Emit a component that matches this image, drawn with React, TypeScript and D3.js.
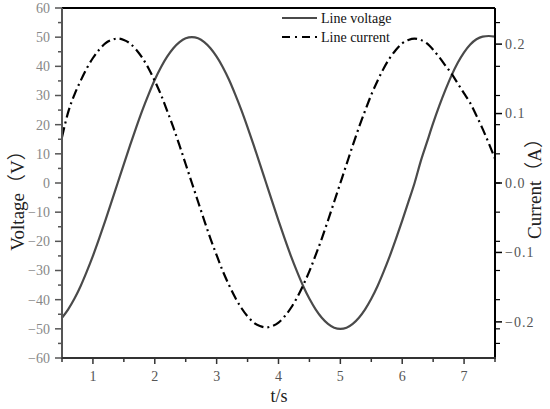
import React from 'react';
import * as d3 from 'd3';

// time grid (s)
const timeS = [
  0.5, 0.6, 0.7, 0.8, 0.9, 1.0, 1.1, 1.2, 1.3, 1.4,
  1.5, 1.6, 1.7, 1.8, 1.9, 2.0, 2.1, 2.2, 2.3, 2.4,
  2.5, 2.6, 2.7, 2.8, 2.9, 3.0, 3.1, 3.2, 3.3, 3.4,
  3.5, 3.6, 3.7, 3.8, 3.9, 4.0, 4.1, 4.2, 4.3, 4.4,
  4.5, 4.6, 4.7, 4.8, 4.9, 5.0, 5.1, 5.2, 5.3, 5.4,
  5.5, 5.6, 5.7, 5.8, 5.9, 6.0, 6.1, 6.2, 6.3, 6.4,
  6.5, 6.6, 6.7, 6.8, 6.9, 7.0, 7.1, 7.2, 7.3, 7.4, 7.5,
];

// Line voltage (V)
const voltage = [
  -46.2, -43.3, -39.7, -35.4, -30.4, -25.0, -19.1, -12.9, -6.5, 0.0,
  6.5, 12.9, 19.1, 25.0, 30.4, 35.4, 39.7, 43.3, 46.2, 48.3,
  49.6, 50.0, 49.6, 48.3, 46.2, 43.3, 39.7, 35.4, 30.4, 25.0,
  19.1, 12.9, 6.5, 0.0, -6.5, -12.9, -19.1, -25.0, -30.4, -35.4,
  -39.7, -43.3, -46.2, -48.3, -49.6, -50.0, -49.6, -48.3, -46.2, -43.3,
  -39.7, -35.4, -30.4, -25.0, -19.1, -12.9, -6.5, 0.0, 7.5, 14.0,
  20.5, 26.5, 32.0, 37.0, 41.3, 44.8, 47.5, 49.3, 50.2, 50.4, 50.2,
];

// Line current (A)
const current = [
  0.066, 0.102, 0.127, 0.147, 0.165, 0.180, 0.192, 0.201, 0.206, 0.208,
  0.206, 0.201, 0.192, 0.180, 0.165, 0.147, 0.127, 0.104, 0.080, 0.054,
  0.027, 0.000, -0.027, -0.054, -0.080, -0.104, -0.127, -0.147, -0.165, -0.180,
  -0.192, -0.201, -0.206, -0.208, -0.206, -0.201, -0.192, -0.180, -0.165, -0.147,
  -0.127, -0.104, -0.080, -0.054, -0.027, 0.000, 0.027, 0.054, 0.080, 0.104,
  0.127, 0.147, 0.165, 0.180, 0.192, 0.201, 0.206, 0.208, 0.206, 0.201,
  0.192, 0.181, 0.169, 0.157, 0.143, 0.129, 0.115, 0.097, 0.078, 0.057, 0.035,
];

const xTicks = [1, 2, 3, 4, 5, 6, 7];
const xMinorTicks = [0.5, 1.5, 2.5, 3.5, 4.5, 5.5, 6.5, 7.5];
const voltageTicks = [-60, -50, -40, -30, -20, -10, 0, 10, 20, 30, 40, 50, 60];
const voltageMinorTicks = [-55, -45, -35, -25, -15, -5, 5, 15, 25, 35, 45, 55];
const currentTicks = [-0.2, -0.1, 0, 0.1, 0.2];
const mirrorTicks = [-55, -50, -40, -30, -20, -10, 0, 10, 20, 30, 40, 55];

const W = 550;
const H = 409;
const margin = { top: 8, right: 55, bottom: 51, left: 62 };

const serif = '"Liberation Serif", "Noto Sans CJK SC", serif';

const fmtMinus = (s: string) => s.replace('-', '\u2212');

export default function App() {
  const x = d3.scaleLinear().domain([0.5, 7.5]).range([margin.left, W - margin.right]);
  const yV = d3.scaleLinear().domain([-60, 60]).range([H - margin.bottom, margin.top]);
  const yI = d3.scaleLinear().domain([-0.252, 0.252]).range([H - margin.bottom, margin.top]);

  const vLine = d3.line<number>()
    .x((_, i) => x(timeS[i]))
    .y(d => yV(d))
    .curve(d3.curveMonotoneX);
  const iLine = d3.line<number>()
    .x((_, i) => x(timeS[i]))
    .y(d => yI(d))
    .curve(d3.curveMonotoneX);

  const left = margin.left;
  const right = W - margin.right;
  const top = margin.top;
  const bottom = H - margin.bottom;

  const dash = '10,4,2,4';

  return (
    <svg width={W} height={H} style={{ position: 'absolute', left: 0, top: 0, background: '#fff' }}>
      <defs>
        <clipPath id="plot">
          <rect x={left} y={top - 2} width={right - left} height={bottom - top + 4} />
        </clipPath>
      </defs>

      {/* curves */}
      <g clipPath="url(#plot)">
        <path d={vLine(voltage) || ''} fill="none" stroke="#4a4a4a" strokeWidth={2.2} />
        <path d={iLine(current) || ''} fill="none" stroke="#000" strokeWidth={2.2} strokeDasharray={dash} />
      </g>

      {/* frame */}
      <line x1={left} x2={right} y1={top} y2={top} stroke="#000" strokeWidth={2} />
      <line x1={right} x2={right} y1={top} y2={bottom} stroke="#000" strokeWidth={2} />
      <line x1={left} x2={left} y1={top} y2={bottom} stroke="#555" strokeWidth={2} />
      <line x1={left - 1} x2={right + 1} y1={bottom} y2={bottom} stroke="#333" strokeWidth={2} />

      {/* left axis */}
      {voltageTicks.map(v => (
        <g key={'lv' + v}>
          <line x1={left - 7} x2={left} y1={yV(v)} y2={yV(v)} stroke="#555" strokeWidth={1.5} />
          <text x={left - 12} y={yV(v)} dy="0.35em" textAnchor="end" fontFamily={serif} fontSize={14} fill="#888">
            {fmtMinus(String(v))}
          </text>
        </g>
      ))}
      {voltageMinorTicks.map(v => (
        <line key={'lm' + v} x1={left - 4} x2={left} y1={yV(v)} y2={yV(v)} stroke="#555" strokeWidth={1.5} />
      ))}

      {/* bottom axis */}
      {xTicks.map(t => (
        <g key={'xt' + t}>
          <line x1={x(t)} x2={x(t)} y1={bottom} y2={bottom + 6} stroke="#333" strokeWidth={1.5} />
          <text x={x(t)} y={381} textAnchor="middle" fontFamily={serif} fontSize={14} fill="#555">
            {t}
          </text>
        </g>
      ))}
      {xMinorTicks.map(t => (
        <line key={'xm' + t} x1={x(t)} x2={x(t)} y1={bottom} y2={bottom + 4} stroke="#333" strokeWidth={1.5} />
      ))}

      {/* right axis */}
      {mirrorTicks.map(v => (
        <line key={'rm' + v} x1={right} x2={right + 5} y1={yV(v)} y2={yV(v)} stroke="#000" strokeWidth={1.2} />
      ))}
      {currentTicks.map(c => (
        <g key={'ri' + c}>
          <line x1={right} x2={right + 7} y1={yI(c)} y2={yI(c)} stroke="#000" strokeWidth={1.5} />
          <text x={right + 10} y={yI(c)} dy="0.35em" fontFamily={serif} fontSize={14} fill="#555" letterSpacing={1}>
            {fmtMinus(c.toFixed(1))}
          </text>
        </g>
      ))}

      {/* axis titles */}
      <text x={279} y={402} textAnchor="middle" fontFamily={serif} fontSize={18} fill="#222">t/s</text>
      <text
        transform={`translate(24,196) rotate(-90)`}
        textAnchor="middle"
        fontFamily={serif}
        fontSize={19}
        fill="#222"
      >
        Voltage（V）
      </text>
      <text
        transform={`translate(541,184) rotate(-90)`}
        textAnchor="middle"
        fontFamily={serif}
        fontSize={19}
        fill="#222"
      >
        Current（A）
      </text>

      {/* legend */}
      <line x1={282} x2={317} y1={18} y2={18} stroke="#4a4a4a" strokeWidth={2} />
      <text x={321} y={18} dy="0.35em" fontFamily={serif} fontSize={14} fill="#111">Line voltage</text>
      <line x1={282} x2={317} y1={37} y2={37} stroke="#000" strokeWidth={2.2} strokeDasharray="8,5,2,5" />
      <text x={321} y={37} dy="0.35em" fontFamily={serif} fontSize={14} fill="#111">Line current</text>
    </svg>
  );
}
